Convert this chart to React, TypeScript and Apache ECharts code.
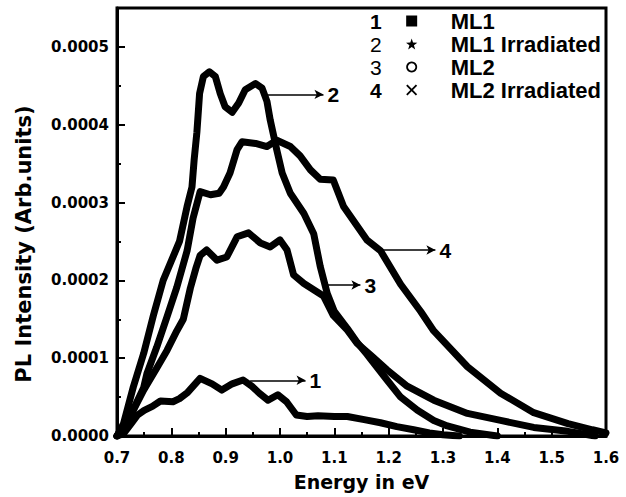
import React, { useEffect, useRef } from "react";
import * as echarts from "echarts";

// ---------- data (intensities in units of 1e-4 arb. units) ----------
const seriesNames = ["ML1", "ML1 Irradiated", "ML2", "ML2 Irradiated"];
const seriesNumbers = ["1", "2", "3", "4"];
const numberWeights = ["bold", "normal", "normal", "bold"];

const ml1: number[][] = [
  [0.70, 0], [0.712, 0.03], [0.725, 0.15], [0.738, 0.27], [0.75, 0.33], [0.765, 0.38],
  [0.78, 0.45], [0.803, 0.44], [0.815, 0.48], [0.83, 0.56], [0.853, 0.74], [0.875, 0.67],
  [0.893, 0.59], [0.912, 0.67], [0.932, 0.72], [0.948, 0.64], [0.962, 0.55], [0.978, 0.46],
  [0.996, 0.53], [1.012, 0.44], [1.03, 0.27], [1.05, 0.25], [1.07, 0.26], [1.1, 0.25],
  [1.124, 0.25], [1.155, 0.21], [1.185, 0.17], [1.215, 0.12], [1.246, 0.08], [1.275, 0.04],
  [1.30, 0.015], [1.33, 0],
];

const ml1Irr: number[][] = [
  [0.70, 0], [0.712, 0.16], [0.73, 0.63], [0.749, 1.06], [0.767, 1.55], [0.785, 2.0],
  [0.80, 2.25], [0.815, 2.5], [0.829, 2.95], [0.838, 3.2], [0.842, 3.55], [0.847, 3.9],
  [0.852, 4.4], [0.859, 4.62], [0.870, 4.68], [0.881, 4.62], [0.890, 4.4], [0.899, 4.23],
  [0.912, 4.16], [0.924, 4.28], [0.936, 4.45], [0.955, 4.53], [0.967, 4.47], [0.976, 4.3],
  [0.982, 4.06], [0.994, 3.68], [1.004, 3.38], [1.019, 3.12], [1.044, 2.86], [1.062, 2.6],
  [1.074, 2.18], [1.087, 1.83], [1.10, 1.6], [1.124, 1.38], [1.142, 1.2], [1.16, 1.05],
  [1.197, 0.72], [1.222, 0.5], [1.253, 0.33], [1.283, 0.2], [1.308, 0.13], [1.35, 0.05],
  [1.40, 0],
];

const ml2: number[][] = [
  [0.70, 0], [0.724, 0.25], [0.749, 0.59], [0.773, 0.87], [0.792, 1.1], [0.81, 1.35],
  [0.822, 1.5], [0.835, 1.9], [0.845, 2.15], [0.853, 2.32], [0.865, 2.39], [0.884, 2.26],
  [0.902, 2.3], [0.921, 2.56], [0.942, 2.61], [0.964, 2.48], [0.982, 2.43], [1.0, 2.52],
  [1.013, 2.39], [1.025, 2.07], [1.044, 1.96], [1.062, 1.88], [1.08, 1.8], [1.098, 1.55],
  [1.124, 1.36], [1.142, 1.19], [1.17, 1.02], [1.197, 0.85], [1.234, 0.64], [1.283, 0.46],
  [1.345, 0.29], [1.406, 0.2], [1.467, 0.11], [1.53, 0.06], [1.58, 0],
];

const ml2Irr: number[][] = [
  [0.70, 0], [0.724, 0.25], [0.749, 0.62], [0.755, 0.8], [0.773, 1.14], [0.792, 1.53],
  [0.81, 1.91], [0.829, 2.38], [0.84, 2.8], [0.853, 3.14], [0.872, 3.1], [0.888, 3.12],
  [0.896, 3.2], [0.908, 3.38], [0.921, 3.68], [0.93, 3.78], [0.955, 3.76], [0.976, 3.72],
  [0.994, 3.8], [1.019, 3.72], [1.037, 3.6], [1.056, 3.42], [1.074, 3.3], [1.098, 3.29],
  [1.117, 2.95], [1.16, 2.52], [1.185, 2.38], [1.222, 1.95], [1.259, 1.6], [1.283, 1.35],
  [1.345, 0.89], [1.406, 0.55], [1.467, 0.3], [1.53, 0.16], [1.575, 0.08], [1.6, 0.04],
];

const seriesData = [ml1, ml1Irr, ml2, ml2Irr];

// annotation arrows: [series index, x start, x end, y level (1e-4), label]
const arrows: [number, number, number, number, string][] = [
  [0, 0.945, 1.047, 0.716, "1"],
  [1, 0.977, 1.080, 4.39, "2"],
  [2, 1.078, 1.148, 1.94, "3"],
  [3, 1.185, 1.286, 2.39, "4"],
];

const UNIT = 1e-4;
const X_MIN = 0.7, X_MAX = 1.6, X_STEP = 0.1;
const Y_MIN = 0, Y_MAX = 5.5 * UNIT, Y_STEP = 1 * UNIT;

const legendIcons = [
  "path://M0,0H10V10H0Z",
  "path://M5,0L6.2,3.6L10,3.7L7,6L8.1,9.7L5,7.5L1.9,9.7L3,6L0,3.7L3.8,3.6Z",
  "path://M5,0A5,5 0 1 1 4.99,0ZM5,1.6A3.4,3.4 0 1 0 5.01,1.6Z",
  "path://M1.2,0L5,3.8L8.8,0L10,1.2L6.2,5L10,8.8L8.8,10L5,6.2L1.2,10L0,8.8L3.8,5L0,1.2Z",
];

const AXIS_FONT = "'DejaVu Sans', sans-serif";
const LEG_FONT = "'Liberation Sans', Arial, sans-serif";

export default function App() {
  const ref = useRef<HTMLDivElement>(null);

  useEffect(() => {
    if (!ref.current) return;
    const chart = echarts.init(ref.current, null, { renderer: "svg" });

    const legendTop = 10;
    const legendRow = 23;

    const series = seriesData.map((d, i) => {
      const arrowDefs = arrows.filter((a) => a[0] === i);
      return {
        name: seriesNames[i],
        type: "line",
        data: d.map((p) => [p[0], p[1] * UNIT]),
        showSymbol: false,
        symbol: "none",
        lineStyle: { color: "#000", width: 7, join: "round", cap: "round" },
        itemStyle: { color: "#000" },
        markLine: arrowDefs.length
          ? {
              silent: true,
              symbol: ["none", "arrow"],
              symbolSize: [7, 9],
              lineStyle: { color: "#000", width: 1.5, type: "solid" },
              label: {
                show: true,
                position: "end",
                distance: 4,
                formatter: arrowDefs[0][4],
                color: "#000",
                fontFamily: LEG_FONT,
                fontWeight: "bold",
                fontSize: 21,
              },
              data: arrowDefs.map((a) => [
                { coord: [a[1], a[3] * UNIT] },
                { coord: [a[2], a[3] * UNIT] },
              ]),
            }
          : undefined,
      };
    });

    chart.setOption({
      animation: false,
      backgroundColor: "#fff",
      grid: {
        left: 117,
        right: 20,
        top: 8,
        bottom: 61,
        show: true,
        borderColor: "#000",
        borderWidth: 3,
      },
      legend: {
        orient: "vertical",
        left: 406,
        top: legendTop,
        padding: 0,
        itemWidth: 68,
        itemHeight: 11,
        itemGap: legendRow - 22,
        selectedMode: false,
        textStyle: {
          color: "#000",
          fontFamily: LEG_FONT,
          fontWeight: "bold",
          fontSize: 22,
          lineHeight: 22,
        },
        data: seriesNames.map((n, i) => ({ name: n, icon: legendIcons[i] })),
      },
      graphic: seriesNumbers.map((n, i) => ({
        type: "text",
        left: 370,
        top: 11 + i * legendRow,
        style: {
          text: n,
          fill: "#000",
          font: `${numberWeights[i]} 21px ${LEG_FONT}`,
        },
      })),
      xAxis: {
        type: "value",
        min: X_MIN,
        max: X_MAX,
        interval: X_STEP,
        name: "Energy in eV",
        nameLocation: "middle",
        nameGap: 36,
        nameTextStyle: { color: "#000", fontFamily: AXIS_FONT, fontWeight: "bold", fontSize: 19 },
        axisLine: { show: true, lineStyle: { color: "#000", width: 3 } },
        axisTick: { show: true, inside: true, length: 8, lineStyle: { color: "#000", width: 2 } },
        minorTick: { show: true, splitNumber: 2, length: 4, lineStyle: { color: "#000", width: 2 } },
        splitLine: { show: false },
        axisLabel: {
          margin: 14,
          color: "#000",
          fontFamily: AXIS_FONT,
          fontWeight: "bold",
          fontSize: 15,
          formatter: (v: number) => v.toFixed(1),
        },
      },
      yAxis: {
        type: "value",
        min: Y_MIN,
        max: Y_MAX,
        interval: Y_STEP,
        name: "PL Intensity (Arb.units)",
        nameLocation: "middle",
        nameGap: 83,
        nameTextStyle: {
          color: "#000",
          fontFamily: AXIS_FONT,
          fontWeight: "bold",
          fontSize: 21,
          padding: [0, 44, 0, 0],
        },
        axisLine: { show: true, lineStyle: { color: "#000", width: 3 } },
        axisTick: { show: true, inside: true, length: 8, lineStyle: { color: "#000", width: 2 } },
        minorTick: { show: true, splitNumber: 2, length: 4, lineStyle: { color: "#000", width: 2 } },
        splitLine: { show: false },
        axisLabel: {
          margin: 8,
          color: "#000",
          fontFamily: AXIS_FONT,
          fontWeight: "bold",
          fontSize: 15,
          formatter: (v: number) => (v > 5.2 * UNIT ? "" : v.toFixed(4)),
        },
      },
      series,
    });

    return () => chart.dispose();
  }, []);

  return (
    <div
      ref={ref}
      style={{ position: "fixed", left: 0, top: 0, width: 626, height: 497, background: "#fff" }}
    />
  );
}
